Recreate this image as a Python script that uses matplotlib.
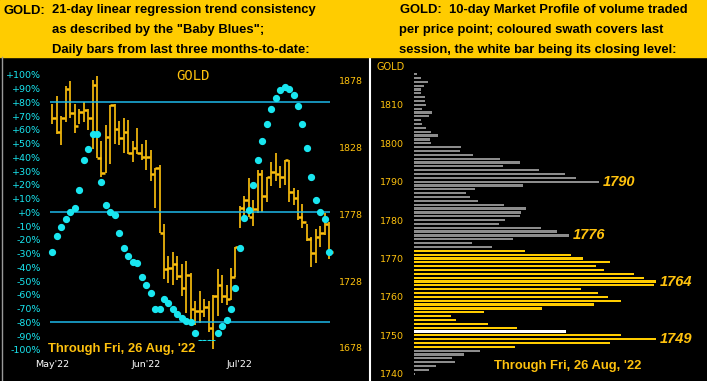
import matplotlib
matplotlib.use("Agg")
import matplotlib.pyplot as plt
from matplotlib.patches import Rectangle
from matplotlib.lines import Line2D
import numpy as np

W, H, DPI = 707, 381, 100

GOLD = "#ffc20e"
HEAD = "#ffcc00"
CYAN = "#19e6f0"
LINE = "#1eb8ea"
GREY = "#8c8c8c"

# ---- left panel: daily bars 27 May .. 26 Aug 2022 (high / low / close)
highs = [1861, 1867, 1852, 1874, 1878, 1861, 1857, 1862, 1857, 1879,
         1882, 1833, 1845, 1860, 1861, 1848, 1850, 1849, 1833, 1843,
         1831, 1834, 1826, 1813, 1815, 1771, 1747, 1750, 1747, 1741,
         1743, 1734, 1713, 1721, 1715, 1713, 1718, 1737, 1733, 1725,
         1738, 1754, 1784, 1792, 1805, 1789, 1811, 1811, 1806, 1817,
         1824, 1814, 1819, 1819, 1798, 1796, 1786, 1771, 1761, 1767,
         1769, 1779, 1772]
lows = [1846, 1838, 1830, 1847, 1850, 1839, 1846, 1847, 1841, 1827,
        1820, 1806, 1809, 1816, 1831, 1830, 1824, 1823, 1817, 1823,
        1819, 1811, 1803, 1783, 1764, 1730, 1727, 1725, 1729, 1717,
        1704, 1695, 1695, 1697, 1701, 1690, 1677, 1702, 1712, 1710,
        1714, 1731, 1768, 1774, 1776, 1769, 1779, 1780, 1787, 1799,
        1803, 1798, 1800, 1787, 1785, 1774, 1768, 1758, 1739, 1742,
        1754, 1763, 1745]
closes = [1850, 1840, 1850, 1872, 1854, 1844, 1855, 1856, 1850, 1875,
          1820, 1809, 1836, 1860, 1842, 1835, 1840, 1824, 1828, 1824,
          1821, 1821, 1808, 1813, 1764, 1737, 1738, 1741, 1732, 1723,
          1733, 1707, 1706, 1706, 1709, 1693, 1717, 1725, 1717, 1715,
          1731, 1754, 1783, 1789, 1776, 1782, 1808, 1792, 1806, 1810,
          1808, 1806, 1819, 1795, 1790, 1776, 1772, 1760, 1749, 1761,
          1764, 1771, 1750]
# "Baby Blues": 21-day linear regression trend consistency, percent
baby_blues = [-29, -17, -11, -5, 0, 3, 16, 38, 46, 57,
              57, 22, 5, 0, -2, -15, -26, -32, -36, -37,
              -47, -53, -59, -70, -70, -63, -66, -70, -74, -77,
              -79, -80, -88, -95, -95, -95, -95, -88, -83, -78,
              -70, -55, -26, -4, 2, 20, 38, 52, 64, 75,
              83, 89, 91, 90, 85, 77, 64, 47, 26, 9,
              0, -5, -29]

month_labels = ["May'22", "Jun'22", "Jul'22"]
month_pos = [0, 21, 42]
pct_ticks = list(range(-100, 101, 10))
price_ticks = [1678, 1728, 1778, 1828, 1878]
bands = [80, 0, -80]

# ---- right panel: 10-day market profile, one bar per price point
profile_prices = list(range(1818, 1739, -1))
profile_volume = [3, 7, 14, 10, 7, 7, 11, 11, 12, 8,
                  18, 15, 7, 8, 12, 17, 24, 16, 17, 47,
                  46, 59, 86, 106, 89, 125, 151, 162, 185, 109,
                  61, 52, 56, 64, 90, 112, 107, 106, 91, 85,
                  127, 143, 155, 99, 58, 78, 111, 157, 169, 196,
                  182, 190, 220, 230, 242, 240, 167, 184, 194, 207,
                  180, 128, 70, 37, 42, 74, 103, 152, 207, 242,
                  196, 101, 66, 50, 38, 41, 22, 15, 1]
swath_lo, swath_hi = 1747, 1772
close_level = 1751
peak_labels = [1790, 1776, 1764, 1749]
profile_ticks = list(range(1740, 1811, 10))

date_note = "Through Fri, 26 Aug, '22"


def box(x0, y0, x1, y1):
    return [x0 / W, 1 - y1 / H, (x1 - x0) / W, (y1 - y0) / H]


def fy(y):
    return 1 - y / H


plt.rcParams["font.family"] = "DejaVu Sans"
fig = plt.figure(figsize=(W / DPI, H / DPI), dpi=DPI, facecolor="black")

# header strip
fig.patches.append(Rectangle((0, fy(57)), 1, 57 / H, transform=fig.transFigure,
                             color=HEAD, zorder=0))
fig.add_artist(Line2D([1.5 / W, 1.5 / W], [0, fy(57)], color="#9a9a9a", lw=1))

hdr = dict(family="Liberation Sans", weight="bold", size=9.4, color="black", va="center")
fig.text(3 / W, fy(10.5), "GOLD:", **hdr)
fig.text(52 / W, fy(10.5), "21-day linear regression trend consistency", **hdr)
fig.text(52 / W, fy(30.5), 'as described by the "Baby Blues";', **hdr)
fig.text(52 / W, fy(50.5), "Daily bars from last three months-to-date:", **hdr)
fig.text(400 / W, fy(10.5), "GOLD:  10-day Market Profile of volume traded", **hdr)
fig.text(399 / W, fy(30.5), "per price point; coloured swath covers last", **hdr)
fig.text(399 / W, fy(50.5), "session, the white bar being its closing level:", **hdr)

# ---- left: price bars + baby blues
axP = fig.add_axes(box(44, 62, 336, 356))
axP.set_facecolor("black")
axP.set_xlim(-1.86, 63.5)
axP.set_ylim(1672.0, 1892.2)
x = np.arange(len(closes))
axP.vlines(x, lows, highs, color=GOLD, lw=1.2)
axP.hlines(closes, x, x + 0.8, color=GOLD, lw=1.8)
axP.set_xticks(month_pos, month_labels)
axP.tick_params(axis="x", length=0, pad=3, labelsize=6.8, labelcolor="white")
for s in axP.spines.values():
    s.set_visible(False)

axT = axP.twinx()
axP.yaxis.tick_right()
axP.set_yticks(price_ticks)
axP.tick_params(axis="y", length=0, pad=2, labelsize=6.8, labelcolor=GOLD,
                labelleft=False, labelright=True)
axT.yaxis.tick_left()
axT.set_ylim(-104.5, 109.3)
axT.set_yticks(pct_ticks, [f"{t:+d}%" if t else "+0%" for t in pct_ticks])
axT.tick_params(axis="y", length=0, pad=2, labelsize=6.8, labelcolor=CYAN,
                labelleft=True, labelright=False)
for s in axT.spines.values():
    s.set_visible(False)
axT.hlines(bands, -0.5, 62.2, color=LINE, lw=1.1)
dots, = axT.plot(x, baby_blues, "o", ms=4.2, color=CYAN, mec=CYAN)
dots.set_clip_path(Rectangle((-5, -92.6), 80, 250, transform=axT.transData))

fig.text(193 / W, fy(76), "GOLD", family="DejaVu Sans Mono", size=10, color=GOLD,
         ha="center", va="center")
fig.text(48 / W, fy(349), date_note, family="Liberation Sans", weight="bold",
         size=9.4, color=GOLD, va="center")

# ---- right: market profile
axM = fig.add_axes(box(370, 58, 707, 381))
axM.set_facecolor("black")
axM.set_xlim(-44, 293)
axM.set_ylim(1738.1, 1822.2)
colors = []
for p in profile_prices:
    if p == close_level:
        colors.append("white")
    elif swath_lo <= p <= swath_hi:
        colors.append(HEAD)
    else:
        colors.append(GREY)
axM.barh(profile_prices, profile_volume, height=0.58, color=colors)
vol = dict(zip(profile_prices, profile_volume))
for p in peak_labels:
    axM.text(vol[p] + 4, p, str(p), family="Liberation Sans", weight="bold",
             style="italic", size=10.5, color=GOLD, va="center")
axM.set_yticks(profile_ticks)
axM.tick_params(axis="y", length=0, pad=-24.5, labelsize=6.8, labelcolor=GOLD)
axM.set_xticks([])
for k, s in axM.spines.items():
    s.set_visible(k == "left")
axM.spines["left"].set_color("white")
axM.spines["left"].set_linewidth(1.5)
fig.text(376 / W, fy(67), "GOLD", size=7, color=GOLD, va="center")
fig.text(494 / W, fy(366), date_note, family="Liberation Sans", weight="bold",
         size=9.4, color=GOLD, va="center")

fig.savefig("out.png", dpi=DPI, facecolor="black")
